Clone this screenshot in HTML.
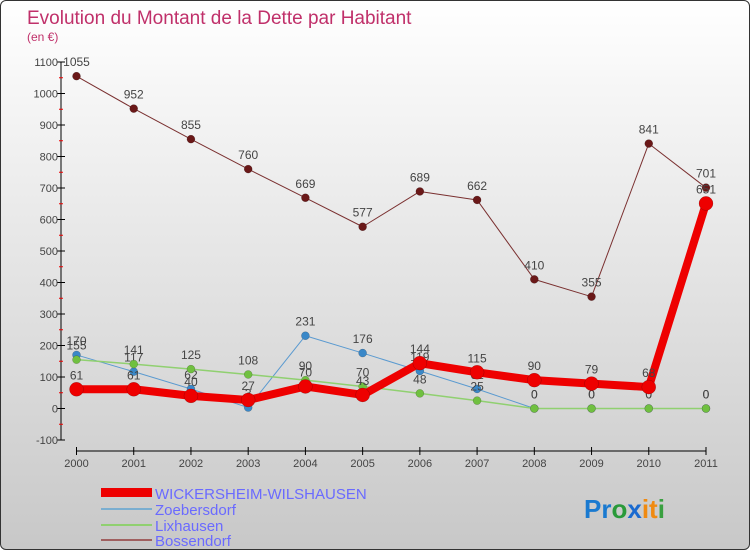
<!DOCTYPE html>
<html><head><meta charset="utf-8"><style>
body{margin:0}
#c{position:relative;width:748px;height:548px;border:1px solid #333;border-radius:6px;background:linear-gradient(#fff,#c8c8c8);overflow:hidden;font-family:"Liberation Sans",sans-serif}
</style></head><body>
<div id="c">
<svg id="s" width="748" height="548" xmlns="http://www.w3.org/2000/svg">
<text x="26" y="23" font-size="19" fill="#c0306a">Evolution du Montant de la Dette par Habitant</text>
<text x="26" y="40" font-size="12" fill="#c0306a">(en €)</text>
<g id="g"></g>
<g font-size="15" fill="#6a6aff">
<rect x="100" y="487" width="51" height="9" fill="#e00"/>
<text x="154" y="498">WICKERSHEIM-WILSHAUSEN</text>
<rect x="100" y="507" width="51" height="2" fill="#7aaed0"/>
<text x="154" y="514">Zoebersdorf</text>
<rect x="100" y="523" width="51" height="2" fill="#90d070"/>
<text x="154" y="530">Lixhausen</text>
<rect x="100" y="538" width="51" height="2" fill="#a06060"/>
<text x="154" y="545">Bossendorf</text>
</g>
<text x="583" y="517" font-size="26" font-weight="bold"><tspan fill="#1a7ad0">Pr</tspan><tspan fill="#2a9a3a">o</tspan><tspan fill="#1a6ad0">x</tspan><tspan fill="#f08a10">it</tspan><tspan fill="#3aa040">i</tspan></text>
</svg>
</div>
<script>
const years=[2000,2001,2002,2003,2004,2005,2006,2007,2008,2009,2010,2011];
const yTicks=[-100,0,100,200,300,400,500,600,700,800,900,1000,1100];
const wick=[61,61,40,27,70,43,144,115,90,79,68,651];
const zoeb=[170,117,62,3,231,176,119,62,0,0,0,0];
const lixh=[155,141,125,108,90,70,48,25,0,0,0,0];
const boss=[1055,952,855,760,669,577,689,662,410,355,841,701];
const NS='http://www.w3.org/2000/svg';
const g=document.getElementById('g');
const X=i=>75.5+i*(705-75.5)/11;
const Y=v=>407.5-v*0.315;
function el(t,a,p){const e=document.createElementNS(NS,t);for(const k in a)e.setAttribute(k,a[k]);(p||g).appendChild(e);return e;}
let ax=el('line',{x1:60,y1:Y(1100),x2:60,y2:Y(-100),stroke:'#000'});


yTicks.forEach(v=>{
 let t=el('line',{x1:56,x2:64,y1:Y(v),y2:Y(v),stroke:'#000'});
 
 
 let m=el('line',{x1:58,x2:62,y1:Y(v+50),y2:Y(v+50),stroke:'#e00'});
 
 
 if(v==1100)m.remove();
 let l=el('text',{x:57,y:Y(v)+4,'font-size':11,fill:'#444','text-anchor':'end'});
 l.textContent=v;
 
 
});
let xa=el('line',{x1:75.5,x2:705,y1:450,y2:450,stroke:'#000'});


years.forEach((y,i)=>{
 let t=el('line',{x1:X(i),x2:X(i),y1:446,y2:454,stroke:'#000'});
 
 
 let l=el('text',{x:X(i),y:466,'font-size':11,fill:'#444','text-anchor':'middle'});
 l.textContent=y;
 
 
});
function series(d,col,w,r,dot,name){
 let p=el('polyline',{points:d.map((v,i)=>X(i)+','+Y(v)).join(' '),fill:'none',stroke:col,'stroke-width':w,'stroke-linejoin':'round'});
 
 
 d.forEach((v,i)=>{
  let c=el('circle',{cx:X(i),cy:Y(v),r:r,fill:dot,stroke:'rgba(0,0,0,0.3)','stroke-width':0.5});
  
  
  let t=el('text',{x:X(i),y:Y(v)-10,'font-size':12,fill:'#444','text-anchor':'middle'});
  t.textContent=v;
  
  
 });
}
series(boss,'#7a3030',1,4,'#6a1818','bossendorf');
series(zoeb,'#5a9ad0',1,4,'#3a88c8','zoebersdorf');
series(lixh,'#90d070',1.5,4,'#70c040','lixhausen');
series(wick,'#e00',8,7,'#e00','wickersheim');
</script>
</body></html>
